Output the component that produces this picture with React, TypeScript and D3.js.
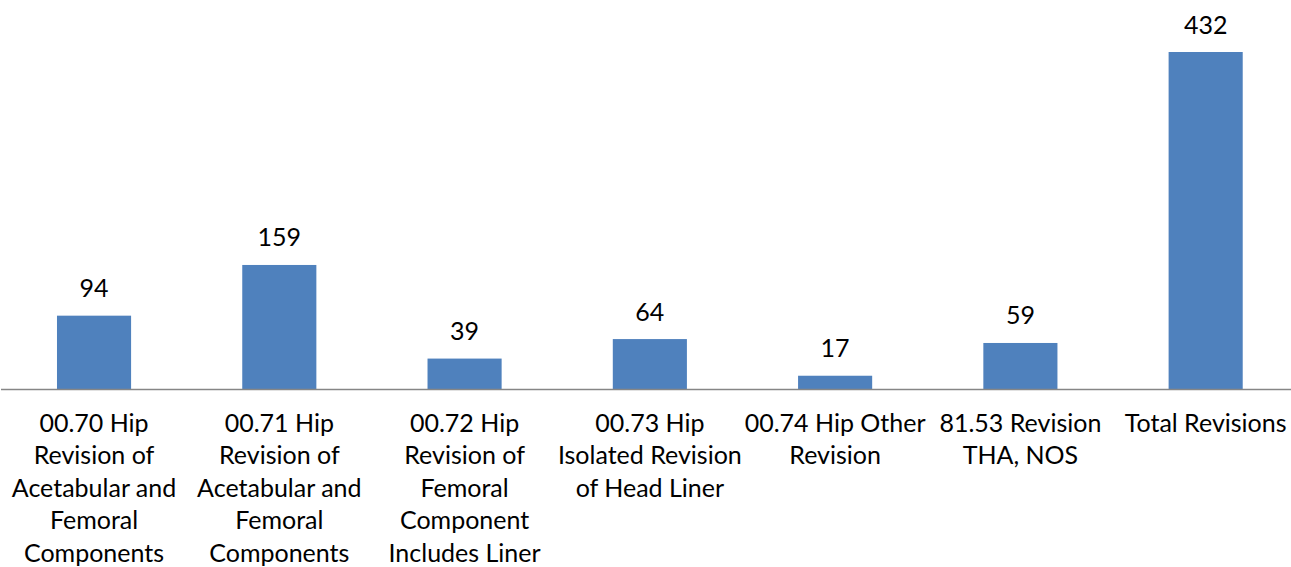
import React from "react";
import * as d3 from "d3";

const categories: string[][] = [
  ["00.70 Hip", "Revision of", "Acetabular and", "Femoral", "Components"],
  ["00.71 Hip", "Revision of", "Acetabular and", "Femoral", "Components"],
  ["00.72 Hip", "Revision of", "Femoral", "Component", "Includes Liner"],
  ["00.73 Hip", "Isolated Revision", "of Head Liner"],
  ["00.74 Hip Other", "Revision"],
  ["81.53 Revision", "THA, NOS"],
  ["Total Revisions"],
];
const values: number[] = [94, 159, 39, 64, 17, 59, 432];

const W = 1291;
const H = 567;
const FONT = "Lato, 'Open Sans', sans-serif";
const FS = 25;

export default function App() {
  const keys = categories.map((_, i) => String(i));
  const x = d3.scaleBand<string>().domain(keys).range([1.4, 1298.3]).paddingInner(0.6).paddingOuter(0.3);
  const y = d3.scaleLinear().domain([0, 432]).range([389, 52]);
  const baseY = y(0);
  const lineH = 32.4;
  return (
    <div style={{ position: "absolute", left: 0, top: 0 }}>
      <svg width={W} height={H} style={{ display: "block", background: "#fff" }} fontFamily={FONT}>
        {values.map((v, i) => {
          const bx = x(String(i))!;
          return (
            <g key={i}>
              <rect x={bx} y={y(v)} width={x.bandwidth()} height={baseY - y(v)} fill="#4F81BD" />
              <text x={bx + x.bandwidth() / 2} y={y(v) - 18.5} textAnchor="middle" fontSize={FS} fill="#000">
                {v}
              </text>
            </g>
          );
        })}
        <line x1={1} x2={W} y1={baseY + 0.5} y2={baseY + 0.5} stroke="#868686" strokeWidth={1.3} />
        {categories.map((lines, i) => {
          const cx = x(String(i))! + x.bandwidth() / 2;
          return (
            <text key={i} textAnchor="middle" fontSize={FS} fill="#000">
              {lines.map((l, j) => (
                <tspan key={j} x={cx} y={432 + j * lineH}>
                  {l}
                </tspan>
              ))}
            </text>
          );
        })}
      </svg>
    </div>
  );
}
